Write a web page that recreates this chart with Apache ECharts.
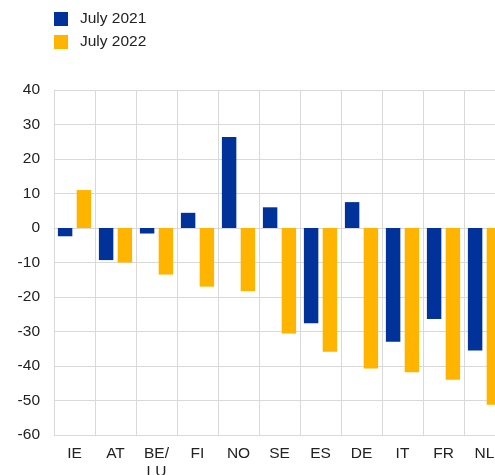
<!DOCTYPE html>
<html>
<head>
<meta charset="utf-8">
<script src="https://cdn.jsdelivr.net/npm/echarts@6/dist/echarts.min.js"></script>
<style>
  html, body { margin: 0; padding: 0; background: #fff; }
  #chart { width: 495px; height: 475px; }
</style>
</head>
<body>
<div id="chart"></div>
<script>
// 国家 / 类别
var categories = ['IE', 'AT', 'BE/\nLU', 'FI', 'NO', 'SE', 'ES', 'DE', 'IT', 'FR', 'NL'];
var seriesNames = ['July 2021', 'July 2022'];
var july2021 = [-2.4, -9.3, -1.6, 4.4, 26.4, 6.0, -27.6, 7.5, -33.0, -26.4, -35.5];
var july2022 = [11.0, -10.0, -13.5, -17.0, -18.3, -30.6, -35.9, -40.7, -41.8, -44.0, -51.2];
var yTicks = [-60, -50, -40, -30, -20, -10, 0, 10, 20, 30, 40];

var colors = ['#003299', '#ffb400'];
var grid_color = '#d9d9d9';
var text_color = '#222';
var font = 'Liberation Sans, Arial, sans-serif';

var ec = echarts.init(document.getElementById('chart'));

ec.setOption({
  animation: false,
  color: colors,
  textStyle: { fontFamily: font },
  legend: {
    data: seriesNames,
    orient: 'vertical',
    left: 54,
    top: 11,
    padding: 0,
    itemWidth: 14,
    itemHeight: 14,
    itemGap: 7,
    icon: 'rect',
    textStyle: { color: text_color, fontSize: 15.5, fontFamily: font, padding: [0, 0, 0, 7] }
  },
  grid: {
    left: 54,
    top: 90,
    width: 451,
    height: 345,
    outerBoundsMode: 'none'
  },
  xAxis: {
    type: 'category',
    data: categories,
    axisTick: { show: false },
    axisLine: { show: true, onZero: true, lineStyle: { color: grid_color, width: 1 } },
    splitLine: { show: true, lineStyle: { color: grid_color, width: 1 } },
    axisLabel: {
      color: text_color,
      fontSize: 15.5,
      fontFamily: font,
      margin: 10,
      lineHeight: 18,
      interval: 0
    }
  },
  yAxis: {
    type: 'value',
    min: yTicks[0],
    max: yTicks[yTicks.length - 1],
    interval: 10,
    axisTick: { show: false },
    axisLine: { show: true, lineStyle: { color: grid_color, width: 1 } },
    splitLine: { show: true, lineStyle: { color: grid_color, width: 1 } },
    axisLabel: { color: text_color, fontSize: 15.5, fontFamily: font, margin: 14 }
  },
  series: [
    {
      name: seriesNames[0],
      type: 'bar',
      data: july2021,
      barGap: '30%',
      barCategoryGap: '19%'
    },
    {
      name: seriesNames[1],
      type: 'bar',
      data: july2022,
      barGap: '30%',
      barCategoryGap: '19%'
    }
  ]
});
</script>
</body>
</html>
